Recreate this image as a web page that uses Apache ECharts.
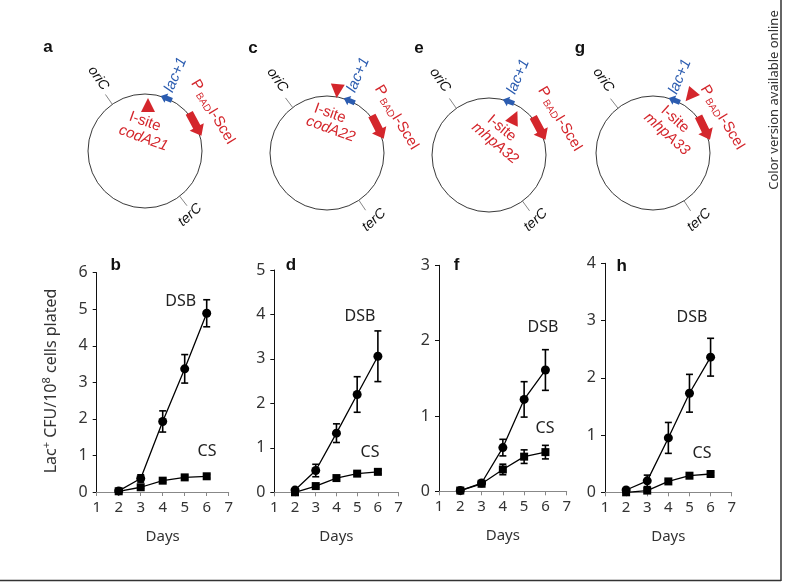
<!DOCTYPE html>
<html><head><meta charset="utf-8">
<script src="https://cdn.jsdelivr.net/npm/echarts@6/dist/echarts.min.js"></script>
<style>html,body{margin:0;padding:0;background:#fff}#c{width:793px;height:582px}</style>
</head><body><div id="c"></div><script>
// ---- data ----
const days = [2, 3, 4, 5, 6];
const panelLetters = ['b', 'd', 'f', 'h'];
const yMaxes = [6, 5, 3, 4];
const bDSB = [0.03, 0.37, 1.93, 3.37, 4.89];
const bDSBerr = [0.02, 0.10, 0.29, 0.39, 0.37];
const bCS = [0.02, 0.13, 0.31, 0.40, 0.43];
const bCSerr = [0.01, 0.03, 0.04, 0.05, 0.05];
const dDSB = [0.05, 0.49, 1.33, 2.20, 3.06];
const dDSBerr = [0.02, 0.14, 0.21, 0.40, 0.57];
const dCS = [0.00, 0.14, 0.32, 0.42, 0.46];
const dCSerr = [0.01, 0.03, 0.03, 0.04, 0.04];
const fDSB = [0.01, 0.11, 0.58, 1.22, 1.61];
const fDSBerr = [0.01, 0.02, 0.11, 0.235, 0.27];
const fCS = [0.01, 0.10, 0.29, 0.46, 0.52];
const fCSerr = [0.01, 0.03, 0.07, 0.09, 0.09];
const hDSB = [0.04, 0.20, 0.95, 1.73, 2.36];
const hDSBerr = [0.02, 0.10, 0.27, 0.33, 0.33];
const hCS = [0.00, 0.03, 0.19, 0.29, 0.32];
const hCSerr = [0.01, 0.02, 0.03, 0.03, 0.03];
const siteNames = ['codA21', 'codA22', 'mhpA32', 'mhpA33'];
const diagramLetters = ['a', 'c', 'e', 'g'];

// ---- layout ----
const FONT = '"Noto Sans", "Open Sans", sans-serif';
const HF = '"Liberation Sans", Arial, sans-serif';
const RED = '#d4262c', BLUE = '#2b5cb0';
const grids = [
  {left: 96.7, top: 272.7, width: 132, height: 219.3},
  {left: 274.3, top: 270, width: 124.3, height: 222.3},
  {left: 439, top: 265.3, width: 127.7, height: 226},
  {left: 605, top: 263.3, width: 126.7, height: 229}
];
const seriesSets = [
  [bDSB, bDSBerr, bCS, bCSerr],
  [dDSB, dDSBerr, dCS, dCSerr],
  [fDSB, fDSBerr, fCS, fCSerr],
  [hDSB, hDSBerr, hCS, hCSerr]
];
const letterPos = [[115.7, 265], [291, 265], [456.7, 265], [621.7, 266]];
const dsbPos = [[180.7, 301], [360, 316], [543, 327], [692, 317]];
const csPos = [[207, 451], [370, 452], [545, 428], [702, 453]];

function errItem(params, api) {
  const x = api.value(0), y = api.value(1), e = api.value(2);
  const t = api.coord([x, y + e]), b = api.coord([x, y - e]);
  const w = 3.5, st = {stroke: '#000', lineWidth: 1.6};
  return {type: 'group', children: [
    {type: 'line', shape: {x1: t[0], y1: t[1], x2: b[0], y2: b[1]}, style: st},
    {type: 'line', shape: {x1: t[0] - w, y1: t[1], x2: t[0] + w, y2: t[1]}, style: st},
    {type: 'line', shape: {x1: b[0] - w, y1: b[1], x2: b[0] + w, y2: b[1]}, style: st}
  ]};
}

const xAxes = [], yAxes = [], series = [];
grids.forEach((g, i) => {
  xAxes.push({type: 'value', gridIndex: i, min: 1, max: 7, interval: 1,
    axisLine: {show: true, lineStyle: {color: '#888', width: 1}},
    axisTick: {show: true, length: 4, lineStyle: {color: '#888'}},
    axisLabel: {color: '#333', fontSize: 15, margin: 8, fontFamily: FONT},
    splitLine: {show: false},
    name: 'Days', nameLocation: 'middle', nameGap: 37,
    nameTextStyle: {fontSize: 15, color: '#333', fontFamily: FONT}});
  yAxes.push({type: 'value', gridIndex: i, min: 0, max: yMaxes[i], interval: 1,
    axisLine: {show: true, lineStyle: {color: '#111', width: 1}},
    axisTick: {show: true, length: 4, lineStyle: {color: '#111'}},
    axisLabel: {color: '#333', fontSize: 16, margin: 9, fontFamily: FONT},
    splitLine: {show: false}});
  const [dsb, dsbE, cs, csE] = seriesSets[i];
  series.push({type: 'line', xAxisIndex: i, yAxisIndex: i, data: days.map((d, j) => [d, dsb[j]]),
    symbol: 'circle', symbolSize: 9, lineStyle: {color: '#000', width: 1.3},
    itemStyle: {color: '#000'}, z: 3, animation: false});
  series.push({type: 'line', xAxisIndex: i, yAxisIndex: i, data: days.map((d, j) => [d, cs[j]]),
    symbol: 'rect', symbolSize: 8, lineStyle: {color: '#000', width: 1.3},
    itemStyle: {color: '#000'}, z: 3, animation: false});
  series.push({type: 'custom', xAxisIndex: i, yAxisIndex: i, renderItem: errItem,
    data: days.map((d, j) => [d, dsb[j], dsbE[j]]), z: 4, animation: false, clip: false});
  series.push({type: 'custom', xAxisIndex: i, yAxisIndex: i, renderItem: errItem,
    data: days.map((d, j) => [d, cs[j], csE[j]]), z: 4, animation: false, clip: false});
});

// ---- diagrams ----
const R = 57, deg = Math.PI / 180;
const diag = [
  {L: [48, 47], c: [145, 151], ori: 125, oriT: [98.3, 78.3], ter: -52.5, terT: [190, 215],
   lac: 68, lacT: [175.7, 75], tri: [148, 106, 0], site: [145, 121.7], name: [143.3, 138.3], sRot: -20,
   red: 28, pb: [213, 112]},
  {L: [253, 48], c: [327, 153], ori: 127, oriT: [277.3, 80], ter: -56, terT: [374, 220],
   lac: 67, lacT: [358.3, 75], tri: [337.3, 90, 175], site: [330, 113.3], name: [330.7, 129.3], sRot: -20,
   red: 27, pb: [396.7, 117.5]},
  {L: [419, 48], c: [489, 155], ori: 125, oriT: [440, 80], ter: -54, terT: [535.7, 220],
   lac: 70, lacT: [518.3, 76.7], tri: [514, 118.3, -25], site: [501.7, 128.3], name: [495, 143.3], sRot: -40,
   red: 28, pb: [560, 119]},
  {L: [580, 48], c: [653, 153], ori: 128, oriT: [603.3, 80], ter: -57, terT: [699, 220],
   lac: 68, lacT: [680, 76.7], tri: [690.7, 95, 140], site: [675, 119.3], name: [666.7, 134], sRot: -42,
   red: 26, pb: [722.5, 117.5]}
];
function onC(c, a, r) { return [c[0] + r * Math.cos(a * deg), c[1] - r * Math.sin(a * deg)]; }
function arrowPts(L, bw, hw, hl) {
  const a = -L / 2, b = L / 2 - hl, c = L / 2;
  return [[a, -bw / 2], [b, -bw / 2], [b, -hw / 2], [c, 0], [b, hw / 2], [b, bw / 2], [a, bw / 2]];
}
const graphics = [];
function txt(x, y, text, rot, extra) {
  graphics.push({type: 'text', x: x, y: y, rotation: (rot || 0) * deg, z: 10,
    style: Object.assign({text: text, x: 0, y: 0, align: 'center', verticalAlign: 'middle',
      fontFamily: HF, fontSize: 13, fill: '#111'}, extra || {})});
}
diag.forEach((d, i) => {
  txt(d.L[0], d.L[1], diagramLetters[i], 0, {fontWeight: 'bold', fontSize: 17, fill: '#111'});
  graphics.push({type: 'circle', shape: {cx: d.c[0], cy: d.c[1], r: R},
    style: {fill: 'none', stroke: '#222', lineWidth: 0.9}});
  [d.ori, d.ter].forEach(a => {
    const p1 = onC(d.c, a, R), p2 = onC(d.c, a, R + 12);
    graphics.push({type: 'line', shape: {x1: p1[0], y1: p1[1], x2: p2[0], y2: p2[1]},
      style: {stroke: '#666', lineWidth: 0.8}});
  });
  txt(d.oriT[0], d.oriT[1], 'oriC', -55, {fontStyle: 'italic', fontSize: 14});
  txt(d.terT[0], d.terT[1], 'terC', 42, {fontStyle: 'italic', fontSize: 14});
  const bp = onC(d.c, d.lac, R);
  graphics.push({type: 'polygon', x: bp[0], y: bp[1], rotation: (d.lac + 90) * deg, z: 5,
    shape: {points: arrowPts(12, 5, 10, 6)}, style: {fill: BLUE}});
  txt(d.lacT[0], d.lacT[1], 'lac+1', 67, {fontStyle: 'italic', fontSize: 15, fill: BLUE});
  graphics.push({type: 'polygon', x: d.tri[0], y: d.tri[1], rotation: d.tri[2] * deg, z: 5,
    shape: {points: [[0, -8], [7, 6], [-7, 6]]}, style: {fill: RED}});
  txt(d.site[0], d.site[1], 'I-site', d.sRot, {fontSize: 15, fill: RED});
  txt(d.name[0], d.name[1], siteNames[i], d.sRot, {fontSize: 15, fill: RED, fontStyle: 'italic'});
  const rp = onC(d.c, d.red, R);
  graphics.push({type: 'polygon', x: rp[0], y: rp[1], rotation: (d.red - 90) * deg, z: 5,
    shape: {points: arrowPts(26, 8, 16, 10)}, style: {fill: RED}});
  graphics.push({type: 'text', x: d.pb[0], y: d.pb[1], rotation: -59 * deg, z: 10,
    style: {text: '{p|P}{s| BAD}{p|I-SceI}', x: 0, y: 0, align: 'center', verticalAlign: 'middle',
      rich: {p: {fontFamily: HF, fontSize: 15, fill: RED, lineHeight: 17},
             s: {fontFamily: HF, fontSize: 10, fill: RED, lineHeight: 11, verticalAlign: 'bottom'}}}});
});
// chart annotations
panelLetters.forEach((l, i) => {
  txt(letterPos[i][0], letterPos[i][1], l, 0, {fontWeight: 'bold', fontSize: 17, fill: '#111'});
  txt(dsbPos[i][0], dsbPos[i][1], 'DSB', 0, {fontFamily: FONT, fontSize: 16, fill: '#222'});
  txt(csPos[i][0], csPos[i][1], 'CS', 0, {fontFamily: FONT, fontSize: 16, fill: '#222'});
});
graphics.push({type: 'text', x: 51, y: 381, rotation: 90 * deg, z: 10,
  style: {text: '{n|Lac}{s|+}{n| CFU/10}{s|8}{n| cells plated}', x: 0, y: 0, align: 'center', verticalAlign: 'middle',
    rich: {n: {fontFamily: FONT, fontSize: 16, fill: '#333', lineHeight: 19},
           s: {fontFamily: FONT, fontSize: 11, fill: '#333', lineHeight: 11, verticalAlign: 'top'}}}});
txt(774, 100, 'Color version available online', 90, {fontFamily: FONT, fontSize: 13, fill: '#333'});
graphics.push({type: 'line', shape: {x1: 781, y1: 0, x2: 781, y2: 581}, style: {stroke: '#333', lineWidth: 1.5}});
graphics.push({type: 'line', shape: {x1: 0, y1: 580.5, x2: 781, y2: 580.5}, style: {stroke: '#333', lineWidth: 1.5}});

const chart = echarts.init(document.getElementById('c'), null, {renderer: 'canvas'});
chart.setOption({
  animation: false,
  backgroundColor: '#fff',
  grid: grids.map(g => Object.assign({containLabel: false}, g)),
  xAxis: xAxes, yAxis: yAxes, series: series,
  graphic: graphics
});
</script></body></html>
